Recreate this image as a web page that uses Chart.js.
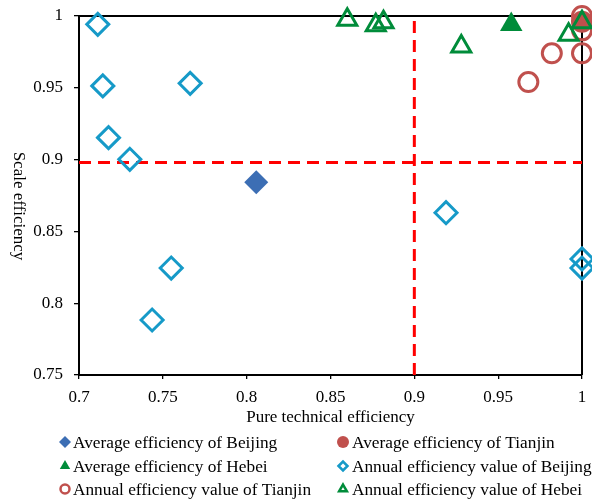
<!DOCTYPE html>
<html>
<head>
<meta charset="utf-8">
<script src="https://cdn.jsdelivr.net/npm/chart.js@4.4.1/dist/chart.umd.min.js"></script>
<style>
  html, body { margin: 0; padding: 0; background: #fff; overflow: hidden; }
  #wrap { width: 592px; height: 500px; }
</style>
</head>
<body>
<div id="wrap"><canvas id="myChart" width="592" height="500"></canvas></div>
<script>
// values: x = pure technical efficiency, y = scale efficiency
const beijingAvgX = [0.8057];
const beijingAvgY = [0.8842];
const tianjinAvgX = [1.0];
const tianjinAvgY = [0.996];
const hebeiAvgX = [0.9578];
const hebeiAvgY = [0.994];
const beijingYearX = [0.7112, 0.7142, 0.7176, 0.7303, 0.7663, 0.755, 0.7436, 0.9189, 1.0, 1.0];
const beijingYearY = [0.9942, 0.9513, 0.9153, 0.9002, 0.9531, 0.8245, 0.7883, 0.863, 0.8308, 0.8245];
const tianjinYearX = [0.968, 0.982, 1.0, 1.0, 1.0];
const tianjinYearY = [0.954, 0.974, 0.974, 0.99, 1.0];
const hebeiYearX = [0.86, 0.877, 0.8816, 0.928, 0.992, 1.0];
const hebeiYearY = [0.9974, 0.9935, 0.9956, 0.9787, 0.987, 0.9956];

// reference (dashed) lines
const refPTE = 0.9;
const refSE = 0.898;

const xTickLabels = ['0.7', '0.75', '0.8', '0.85', '0.9', '0.95', '1'];
const yTickLabels = ['0.75', '0.8', '0.85', '0.9', '0.95', '1'];

const seriesNames = [
    'Average efficiency of Beijing',
    'Average efficiency of Tianjin',
    'Average efficiency of Hebei',
    'Annual efficiency value of Beijing',
    'Annual efficiency value of Tianjin',
    'Annual efficiency value of Hebei'
];

const FONT = "'Liberation Serif', 'Times New Roman', serif";
const BLUE = '#3c6eb4';
const RED = '#c0504d';
const GREEN = '#008c3a';
const CYAN = '#169ac8';

function pts(xs, ys) {
    return xs.map((x, i) => ({ x: x, y: ys[i] }));
}

const datasets = [
    { label: seriesNames[0], data: pts(beijingAvgX, beijingAvgY), pointStyle: 'rectRot', pointRadius: 12,
      backgroundColor: BLUE, borderColor: BLUE, pointBorderWidth: 0, order: 6 },
    { label: seriesNames[1], data: pts(tianjinAvgX, tianjinAvgY), pointStyle: 'circle', pointRadius: 11,
      backgroundColor: RED, borderColor: RED, pointBorderWidth: 0, order: 5 },
    { label: seriesNames[2], data: pts(hebeiAvgX, hebeiAvgY), pointStyle: 'triangle', pointRadius: 13,
      backgroundColor: GREEN, borderColor: GREEN, pointBorderWidth: 0, order: 4 },
    { label: seriesNames[3], data: pts(beijingYearX, beijingYearY), pointStyle: 'rectRot', pointRadius: 11,
      backgroundColor: 'rgba(0,0,0,0)', borderColor: CYAN, pointBorderWidth: 3, order: 3 },
    { label: seriesNames[4], data: pts(tianjinYearX, tianjinYearY), pointStyle: 'circle', pointRadius: 9.5,
      backgroundColor: 'rgba(0,0,0,0)', borderColor: RED, pointBorderWidth: 3, order: 2 },
    { label: seriesNames[5], data: pts(hebeiYearX, hebeiYearY), pointStyle: 'triangle', pointRadius: 11,
      backgroundColor: 'rgba(0,0,0,0)', borderColor: GREEN, pointBorderWidth: 3, order: 1 },
    { label: 'v', type: 'line', data: [{ x: refPTE, y: 0.75 }, { x: refPTE, y: 1 }], showLine: true,
      borderColor: '#ff0000', borderWidth: 3, borderDash: [12, 7], pointRadius: 0, order: 10 },
    { label: 'h', type: 'line', data: [{ x: 0.7, y: refSE }, { x: 1, y: refSE }], showLine: true,
      borderColor: '#ff0000', borderWidth: 3, borderDash: [12, 7], pointRadius: 0, order: 10 }
];
datasets.forEach(d => { d.clip = false; d.pointHoverRadius = d.pointRadius; });

// box around the plot area
const frame = {
    id: 'frame',
    beforeDatasetsDraw(chart) {
        const a = chart.chartArea, ctx = chart.ctx;
        ctx.save();
        ctx.strokeStyle = '#000';
        ctx.lineWidth = 2;
        ctx.beginPath();
        ctx.moveTo(a.left, a.top);
        ctx.lineTo(a.right, a.top);
        ctx.lineTo(a.right, a.bottom);
        ctx.stroke();
        ctx.restore();
    }
};

// y title reads top to bottom, plus a two-column legend
const extras = {
    id: 'extras',
    afterDraw(chart) {
        const ctx = chart.ctx;
        ctx.save();
        ctx.fillStyle = '#000';
        ctx.font = '17px ' + FONT;
        ctx.textAlign = 'center';
        ctx.textBaseline = 'middle';
        ctx.translate(18, 206);
        ctx.rotate(Math.PI / 2);
        ctx.fillText('Scale efficiency', 0, 0);
        ctx.restore();

        const cols = [[65, 73], [343, 352]];
        const rows = [442, 466, 489];
        ctx.save();
        ctx.font = '17.3px ' + FONT;
        ctx.textBaseline = 'middle';
        ctx.textAlign = 'left';
        seriesNames.forEach((name, i) => {
            const ds = chart.data.datasets[i];
            const c = cols[i % 2], y = rows[Math.floor(i / 2)];
            const open = ds.pointBorderWidth > 0;
            ctx.fillStyle = ds.backgroundColor;
            ctx.strokeStyle = ds.borderColor;
            ctx.lineWidth = open ? 2.5 : 0;
            Chart.helpers.drawPoint(ctx, {
                pointStyle: ds.pointStyle,
                radius: open ? 4.5 : 6,
                rotation: 0,
                borderWidth: open ? 2.5 : 0
            }, c[0], y);
            ctx.fillStyle = '#000';
            ctx.fillText(name, c[1], y + 1);
        });
        ctx.restore();
    }
};

const ctx = document.getElementById('myChart').getContext('2d');
const chart = new Chart(ctx, {
    type: 'scatter',
    data: { datasets: datasets },
    options: {
        responsive: false,
        animation: false,
        devicePixelRatio: 1,
        layout: { autoPadding: false, padding: { left: 0, top: 16, right: 10, bottom: 72 } },
        plugins: { legend: { display: false }, tooltip: { enabled: false } },
        scales: {
            x: {
                type: 'linear', min: 0.7, max: 1,
                ticks: {
                    stepSize: 0.05, color: '#000', padding: 8,
                    font: { family: FONT, size: 17 },
                    callback: (v, i) => xTickLabels[i]
                },
                grid: { drawOnChartArea: false, drawTicks: true, tickLength: 4, color: '#000', lineWidth: 1.3 },
                border: { color: '#000', width: 2 },
                title: {
                    display: true, text: 'Pure technical efficiency', color: '#000',
                    font: { family: FONT, size: 17 }, padding: { top: 0, bottom: 0 }
                },
                afterFit: s => { s.height = 53; s.paddingLeft = 0; s.paddingRight = 0; }
            },
            y: {
                type: 'linear', min: 0.75, max: 1,
                ticks: {
                    stepSize: 0.05, color: '#000', padding: 11,
                    font: { family: FONT, size: 17 },
                    callback: (v, i) => yTickLabels[i]
                },
                grid: { drawOnChartArea: false, drawTicks: true, tickLength: 5, color: '#000', lineWidth: 1.3 },
                border: { color: '#000', width: 2 },
                afterFit: s => { s.width = 79; s.paddingTop = 0; s.paddingBottom = 0; }
            }
        }
    },
    plugins: [frame, extras]
});
</script>
</body>
</html>
